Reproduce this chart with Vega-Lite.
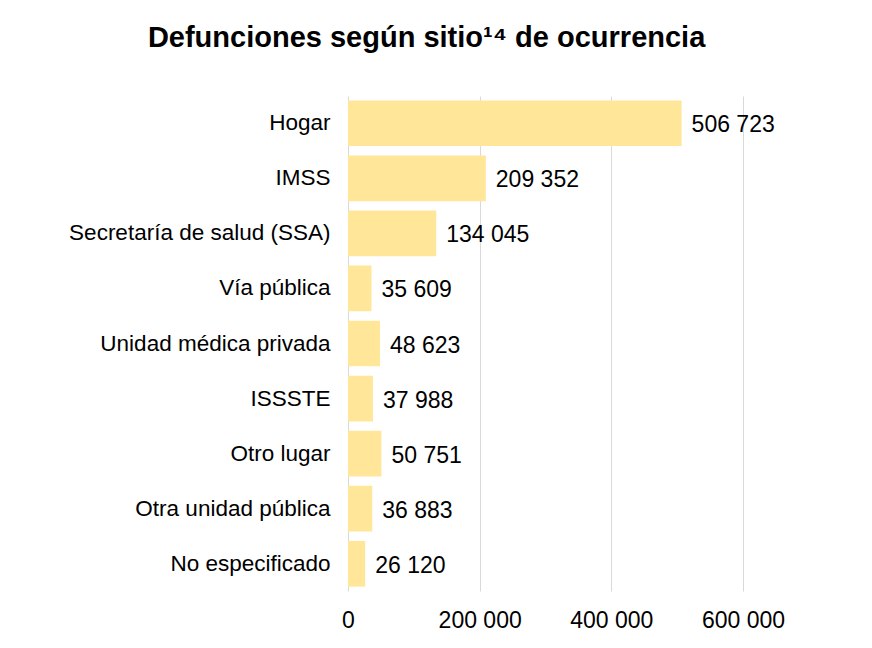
{
  "$schema": "https://vega.github.io/schema/vega-lite/v6.json",
  "width": 395,
  "height": 495,
  "autosize": {"type": "pad"},
  "padding": {"left": 68, "top": 24, "right": 20, "bottom": 10},
  "background": "white",
  "config": {
    "locale": {"number": {"decimal": ",", "thousands": " ", "grouping": [3], "currency": ["$", ""]}},
    "font": "Liberation Sans",
    "view": {"stroke": null}
  },
  "title": {
    "text": "Defunciones según sitio¹⁴ de ocurrencia",
    "font": "Liberation Sans",
    "fontSize": 29,
    "fontWeight": "bold",
    "color": "black",
    "anchor": "middle",
    "frame": "bounds",
    "offset": 43
  },
  "data": {
    "values": [
      {"sitio": "Hogar", "defunciones": 506723},
      {"sitio": "IMSS", "defunciones": 209352},
      {"sitio": "Secretaría de salud (SSA)", "defunciones": 134045},
      {"sitio": "Vía pública", "defunciones": 35609},
      {"sitio": "Unidad médica privada", "defunciones": 48623},
      {"sitio": "ISSSTE", "defunciones": 37988},
      {"sitio": "Otro lugar", "defunciones": 50751},
      {"sitio": "Otra unidad pública", "defunciones": 36883},
      {"sitio": "No especificado", "defunciones": 26120}
    ]
  },
  "encoding": {
    "y": {
      "field": "sitio",
      "type": "nominal",
      "sort": null,
      "scale": {"paddingInner": 0.17, "paddingOuter": 0.08},
      "axis": {
        "title": null,
        "domain": false,
        "ticks": false,
        "labelFontSize": 22.5,
        "labelColor": "black",
        "labelPadding": 18,
        "labelLimit": 400
      }
    },
    "x": {
      "field": "defunciones",
      "type": "quantitative",
      "scale": {"domain": [0, 600000], "nice": false},
      "axis": {
        "title": null,
        "values": [0, 200000, 400000, 600000],
        "format": ",d",
        "domain": false,
        "ticks": false,
        "grid": true,
        "gridColor": "#d9d9d9",
        "gridWidth": 1,
        "labelFontSize": 23,
        "labelColor": "black",
        "labelPadding": 18,
        "labelFlush": false
      }
    }
  },
  "layer": [
    {"mark": {"type": "bar", "color": "#ffe699"}},
    {
      "mark": {"type": "text", "align": "left", "baseline": "middle", "dx": 10, "dy": 2, "fontSize": 23, "color": "black"},
      "encoding": {"text": {"field": "defunciones", "type": "quantitative", "format": ",d"}}
    }
  ]
}
